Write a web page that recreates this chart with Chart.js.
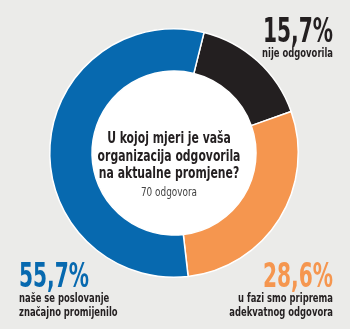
<!DOCTYPE html>
<html>
<head>
<meta charset="utf-8">
<script src="https://cdn.jsdelivr.net/npm/chart.js@4"></script>
<style>
  html, body { margin: 0; padding: 0; background: #ebebe9; }
  #wrap { width: 350px; height: 329px; position: relative; }
</style>
</head>
<body>
<div id="wrap"><canvas id="pie"></canvas></div>
<script>
// podaci
const categories = ['nije odgovorila', 'u fazi smo priprema adekvatnog odgovora', 'naše se poslovanje značajno promijenilo'];
const values = [15.7, 28.6, 55.7];
const valueLabels = ['15,7%', '28,6%', '55,7%'];
const labelLines = [
    ['nije odgovorila'],
    ['u fazi smo priprema', 'adekvatnog odgovora'],
    ['naše se poslovanje', 'značajno promijenilo']
];
const colors = ['#231f20', '#f5964f', '#0769af'];
const title = ['U kojoj mjeri je vaša', 'organizacija odgovorila', 'na aktualne promjene?'];
const subtitle = '70 odgovora';

const FONT = '"DejaVu Sans Condensed", "Roboto", sans-serif';

// uski tekst: crtamo sa horizontalnim skaliranjem
function narrowText(ctx, text, x, y, align, sx) {
    ctx.save();
    ctx.translate(x, y);
    ctx.scale(sx, 1);
    ctx.textAlign = align;
    ctx.fillText(text, 0, 0);
    ctx.restore();
}

const labelsPlugin = {
    id: 'labelsPlugin',
    beforeDatasetsDraw(chart) {
        // bijeli krug u sredini
        const arc = chart.getDatasetMeta(0).data[0];
        const ctx = chart.ctx;
        ctx.save();
        ctx.fillStyle = '#ffffff';
        ctx.beginPath();
        ctx.arc(arc.x, arc.y, arc.innerRadius + 1, 0, Math.PI * 2);
        ctx.fill();
        ctx.restore();
    },
    afterDraw(chart) {
        const ctx = chart.ctx;
        const arc = chart.getDatasetMeta(0).data[0];
        const cx = arc.x, cy = arc.y;
        ctx.save();
        ctx.textBaseline = 'alphabetic';

        // naslov
        ctx.fillStyle = '#231f20';
        ctx.font = 'bold 16.5px ' + FONT;
        title.forEach((t, i) => narrowText(ctx, t, cx - 5, cy - 10 + i * 17.5, 'center', 0.73));
        ctx.fillStyle = '#444444';
        ctx.font = '13px ' + FONT;
        narrowText(ctx, subtitle, cx - 5, cy + 43, 'center', 0.76);

        // postoci
        const spots = [
            { x: 333, y: 42, align: 'right' },
            { x: 333, y: 287, align: 'right' },
            { x: 19, y: 287, align: 'left' }
        ];
        spots.forEach((s, i) => {
            ctx.fillStyle = colors[i];
            ctx.font = 'bold 33px ' + FONT;
            narrowText(ctx, valueLabels[i], s.x, s.y, s.align, 0.68);
            ctx.fillStyle = '#231f20';
            ctx.font = 'bold 13px ' + FONT;
            labelLines[i].forEach((l, j) => narrowText(ctx, l, s.x, s.y + 15 + j * 14, s.align, 0.72));
        });
        ctx.restore();
    }
};

new Chart(document.getElementById('pie').getContext('2d'), {
    type: 'doughnut',
    data: {
        labels: categories,
        datasets: [{
            data: values,
            backgroundColor: colors,
            borderColor: '#ffffff',
            borderWidth: 1.5
        }]
    },
    options: {
        responsive: true,
        maintainAspectRatio: false,
        animation: false,
        rotation: 14,
        cutout: '66%',
        layout: { padding: { left: 49, right: 51, top: 28, bottom: 51 } },
        plugins: {
            legend: { display: false },
            tooltip: { enabled: false }
        }
    },
    plugins: [labelsPlugin]
});
</script>
</body>
</html>
